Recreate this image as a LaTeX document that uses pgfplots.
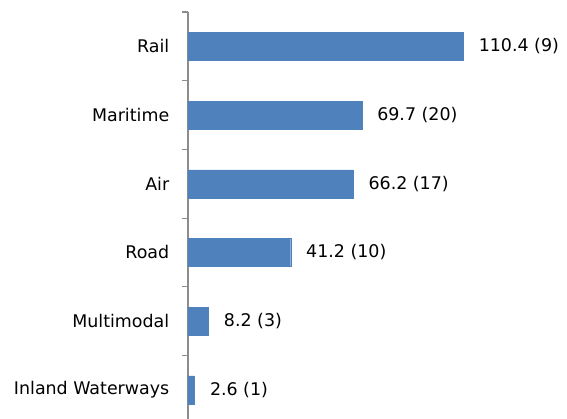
\documentclass[border=0pt]{standalone}
\usepackage{pgfplots}
\pgfplotsset{compat=1.18}
\usepackage{fontspec}
\setmainfont{DejaVu Sans}
\definecolor{barblue}{HTML}{4F81BD}
\definecolor{axgray}{HTML}{8C8C8C}
\begin{document}
\begin{tikzpicture}
\useasboundingbox (-188bp,0bp) rectangle (379bp,419bp);
\begin{axis}[
  at={(0,0)}, anchor=south west,
  width=379bp, height=407bp, scale only axis=true,
  xmin=0, xmax=152,
  ymin=-0.424, ymax=5.5,
  xbar, bar width=28bp,
  axis x line=none,
  axis y line*=left,
  y axis line style={axgray, line width=1.2pt, -},
  ytick={0,1,2,3,4,5},
  yticklabels={Inland Waterways,Multimodal,Road,Air,Maritime,Rail},
  major y tick style={draw=none},
  minor ytick={0.5,1.5,2.5,3.5,4.5,5.5},
  minor y tick style={axgray, line width=1.2pt},
  minor tick length=6bp,
  tick align=outside,
  yticklabel style={font=\fontsize{17.5}{20}\selectfont, xshift=-11bp, text=black},
  point meta=explicit symbolic,
  nodes near coords,
  nodes near coords style={anchor=west, font=\fontsize{17.5}{20}\selectfont, xshift=12bp, text=black},
  clip=false,
]
\addplot[fill=barblue, draw=barblue] coordinates {
  (2.6,0) [2.6 (1)]
  (8.2,1) [8.2 (3)]
  (41.2,2) [41.2 (10)]
  (66.2,3) [66.2 (17)]
  (69.7,4) [69.7 (20)]
  (110.4,5) [110.4 (9)]
};
\end{axis}
\end{tikzpicture}
\end{document}
